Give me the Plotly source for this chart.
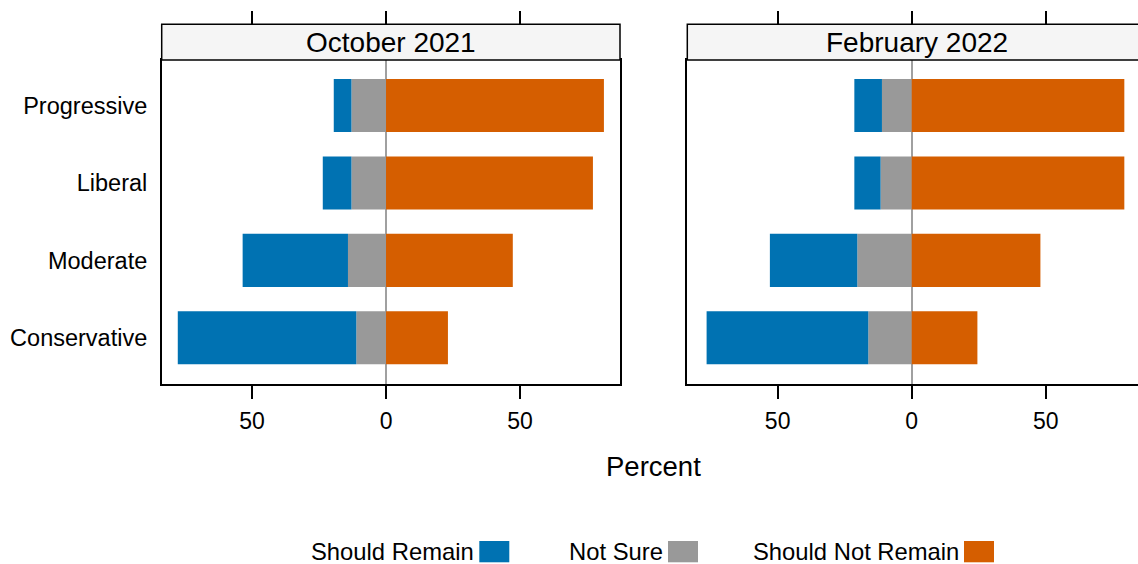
import plotly.graph_objects as go

categories = ["Progressive", "Liberal", "Moderate", "Conservative"]
panels = ["October 2021", "February 2022"]

oct_remain = [6.6, 10.7, 39.3, 66.6]
oct_notsure = [12.9, 12.9, 14.2, 11.1]
oct_notremain = [81.3, 77.2, 47.3, 23.1]

feb_remain = [10.3, 9.8, 32.6, 60.3]
feb_notsure = [11.1, 11.6, 20.3, 16.2]
feb_notremain = [79.3, 79.3, 48.0, 24.5]

series_names = ["Should Remain", "Not Sure", "Should Not Remain"]
colors = {"Should Remain": "#0072B2", "Not Sure": "#999999", "Should Not Remain": "#D55E00"}

tick_vals = [-50, 0, 50]
tick_text = ["50", "0", "50"]

W, H = 1138, 564
FONT = "Liberation Sans, Arial, Helvetica, sans-serif"

def px_x(p):
    return p / W

def px_y(p):
    return 1 - p / H

dom_left = [px_x(161.7), px_x(620)]
dom_right = [px_x(687.3), 1.0]
dom_y = [px_y(384), px_y(60)]
strip_top = px_y(24.3)

fig = go.Figure()

data = [
    (oct_remain, oct_notsure, oct_notremain, "x", "y"),
    (feb_remain, feb_notsure, feb_notremain, "x2", "y2"),
]
for remain, notsure, notremain, xa, ya in data:
    fig.add_trace(go.Bar(y=categories, x=[-v for v in notsure], orientation="h",
                         marker=dict(color=colors["Not Sure"], line=dict(width=0)),
                         width=0.685, xaxis=xa, yaxis=ya, showlegend=False, name="Not Sure"))
    fig.add_trace(go.Bar(y=categories, x=[-v for v in remain], orientation="h",
                         marker=dict(color=colors["Should Remain"], line=dict(width=0)),
                         width=0.685, xaxis=xa, yaxis=ya, showlegend=False, name="Should Remain"))
    fig.add_trace(go.Bar(y=categories, x=notremain, orientation="h",
                         marker=dict(color=colors["Should Not Remain"], line=dict(width=0)),
                         width=0.685, xaxis=xa, yaxis=ya, showlegend=False, name="Should Not Remain"))

# empty traces to create top tick axes
fig.add_trace(go.Scatter(x=[None], y=[None], xaxis="x3", yaxis="y", showlegend=False, hoverinfo="skip"))
fig.add_trace(go.Scatter(x=[None], y=[None], xaxis="x4", yaxis="y2", showlegend=False, hoverinfo="skip"))

range_left = [-83.7, 87.3]
range_right = [-83.7, 84.4]

common_x = dict(tickvals=tick_vals, ticktext=tick_text, ticks="outside", ticklen=13,
                tickwidth=1.5, tickcolor="black", showline=True, linecolor="black",
                linewidth=1.5, mirror=True, showgrid=False, zeroline=True,
                zerolinecolor="#a0a0a0", zerolinewidth=1.5, ticklabelstandoff=3,
                tickfont=dict(size=23, color="black", family=FONT), fixedrange=True)

cat_order = list(reversed(categories))
common_y = dict(categoryorder="array", categoryarray=cat_order, range=[-0.597, 3.588],
                showgrid=False, zeroline=False, ticks="", showline=True, linecolor="black",
                linewidth=1.5, tickfont=dict(size=23.5, color="black", family=FONT), fixedrange=True)

top_x = dict(tickvals=tick_vals, ticks="outside", ticklen=13, tickwidth=1.5, tickcolor="black",
             showticklabels=False, showline=False, showgrid=False, zeroline=False,
             side="top", anchor="free", position=strip_top, fixedrange=True)

fig.update_layout(
    width=W, height=H,
    margin=dict(l=0, r=0, t=0, b=0),
    paper_bgcolor="white", plot_bgcolor="white",
    barmode="relative", bargap=0.3,
    showlegend=False,
    font=dict(family=FONT, color="black"),
    xaxis=dict(domain=dom_left, range=range_left, anchor="y", **common_x),
    xaxis2=dict(domain=dom_right, range=range_right, anchor="y2", **common_x),
    xaxis3=dict(overlaying="x", range=range_left, **top_x),
    xaxis4=dict(overlaying="x2", range=range_right, **top_x),
    yaxis=dict(domain=dom_y, anchor="x", mirror=True, ticklabelstandoff=8, **common_y),
    yaxis2=dict(domain=dom_y, anchor="x2", mirror=False, showticklabels=False, **common_y),
)

shapes = []
annotations = []
for i, (xa, title) in enumerate([("x", panels[0]), ("x2", panels[1])]):
    x1 = 1 if i == 0 else 1.02
    shapes.append(dict(type="rect", xref=f"{xa} domain", yref="paper", x0=0, x1=x1,
                       y0=dom_y[1], y1=strip_top, fillcolor="#f5f5f5",
                       line=dict(color="black", width=1.5), layer="above"))
    annotations.append(dict(text=title, xref=f"{xa} domain", yref="paper",
                            x=0.5 if i == 0 else (916.5 - 687.3) / (1138 - 687.3),
                            y=(dom_y[1] + strip_top) / 2, showarrow=False,
                            xanchor="center", yanchor="middle",
                            font=dict(size=28, color="black", family=FONT)))

annotations.append(dict(text="Percent", xref="paper", yref="paper", x=px_x(653.7), y=px_y(466.7),
                        showarrow=False, xanchor="center", yanchor="middle",
                        font=dict(size=27.5, color="black", family=FONT)))

# legend (text then swatch)
legend_swatch_x = {"Should Remain": 479.3, "Not Sure": 668, "Should Not Remain": 964}
for name in series_names:
    sx = legend_swatch_x[name]
    shapes.append(dict(type="rect", xref="paper", yref="paper", x0=px_x(sx), x1=px_x(sx + 30),
                       y0=px_y(562.3), y1=px_y(541), fillcolor=colors[name], line=dict(width=0)))
    annotations.append(dict(text=name, xref="paper", yref="paper", x=px_x(sx - 3), y=px_y(551.5),
                            showarrow=False, xanchor="right", yanchor="middle",
                            font=dict(size=23.8, color="black", family=FONT)))

fig.update_layout(shapes=shapes, annotations=annotations)

fig.write_html("out.html", config={"displayModeBar": False},
               post_script="document.body.style.margin='0px';document.body.style.overflow='hidden';")
